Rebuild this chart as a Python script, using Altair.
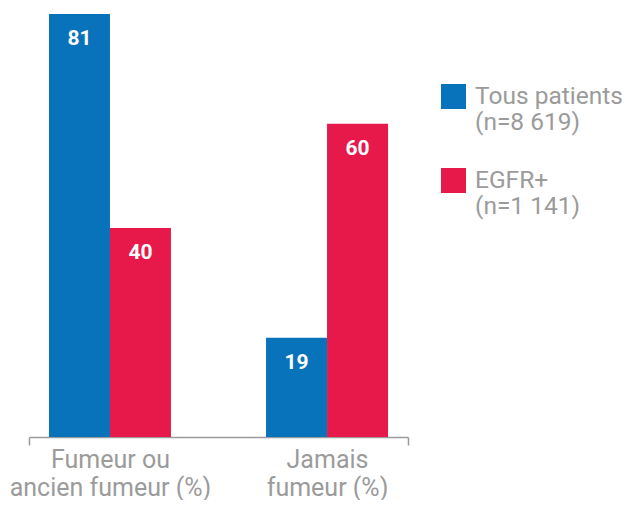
import altair as alt
import pandas as pd

categories = ["Fumeur ou\nancien fumeur (%)", "Jamais\nfumeur (%)"]
series = ["Tous patients\n\u2009(n=8 619)", "EGFR+\n(n=1 141)"]
tous_patients = [81, 19]
egfr_plus = [40, 60]
colors = ["#0872BA", "#E6194A"]
grey = "#9B9B9B"

rows = []
for g, cat in enumerate(categories):
    for k, (s, vals) in enumerate(zip(series, [tous_patients, egfr_plus])):
        rows.append({"cat": cat, "g": g, "k": k, "series": s, "value": vals[g]})
df = pd.DataFrame(rows)

bw = 0.281
edge = 0.373

def arr(c):
    return "[" + ",".join("'" + p + "'" for p in c.split("\n")) + "]"

label_expr = (
    f"datum.value == 0 ? {arr(categories[0])} : datum.value == 1 ? {arr(categories[1])} : ''"
)

base = alt.Chart(df).transform_calculate(
    x0=f"datum.g + (datum.k - 1) * {bw}",
    x1=f"datum.g + datum.k * {bw}",
    xc=f"datum.g + (datum.k - 0.5) * {bw}",
)

xscale = alt.Scale(domain=[-edge, 1 + edge], nice=False, zero=False)
yscale = alt.Scale(domain=[0, 81], nice=False)

bars = base.mark_bar().encode(
    x=alt.X(
        "x0:Q",
        scale=xscale,
        title=None,
        axis=alt.Axis(
            values=[-edge, 0, 1, 1 + edge],
            labelExpr=label_expr,
            grid=False,
            domainColor=grey,
            domainWidth=1.5,
            tickColor=grey,
            tickWidth=1.5,
            tickSize=8,
            tickOpacity={"condition": {"test": "datum.value == 0 || datum.value == 1", "value": 0}, "value": 1},
            labelFontSize=25,
            labelFont="Roboto",
            labelColor=grey,
            labelPadding=2,
            labelLineHeight=28,
            labelLimit=400,
            labelFlush=False,
            labelOverlap=False,
            labelBaseline="top",
        ),
    ),
    x2="x1:Q",
    y=alt.Y("value:Q", scale=yscale, axis=None),
    y2=alt.datum(0),
    color=alt.Color(
        "series:N",
        scale=alt.Scale(domain=series, range=colors),
        legend=alt.Legend(
            title=None,
            orient="none",
            legendX=412,
            legendY=70,
            symbolType="square",
            symbolSize=625,
            symbolStrokeWidth=0,
            symbolOpacity=1,
            labelFontSize=24.5,
            labelFont="Roboto",
            labelColor=grey,
            labelOffset=9,
            labelLimit=300,
            labelExpr="split(datum.label, '\\n')",
            labelBaseline="middle",
            rowPadding=32,
        ),
    ),
)

labels = base.mark_text(
    color="white", fontWeight="bold", fontSize=21, font="Roboto", baseline="middle", dy=25
).encode(
    x="xc:Q",
    y="value:Q",
    text="value:Q",
)

chart = (
    alt.layer(bars, labels)
    .properties(
        width=379,
        height=423,
        autosize=alt.AutoSizeParams(type="none"),
        padding={"left": 21, "top": 6, "right": 214, "bottom": 63},
    )
    .configure_view(stroke=None)
)

chart.save("out.html", embed_options={"renderer": "svg", "actions": False})
